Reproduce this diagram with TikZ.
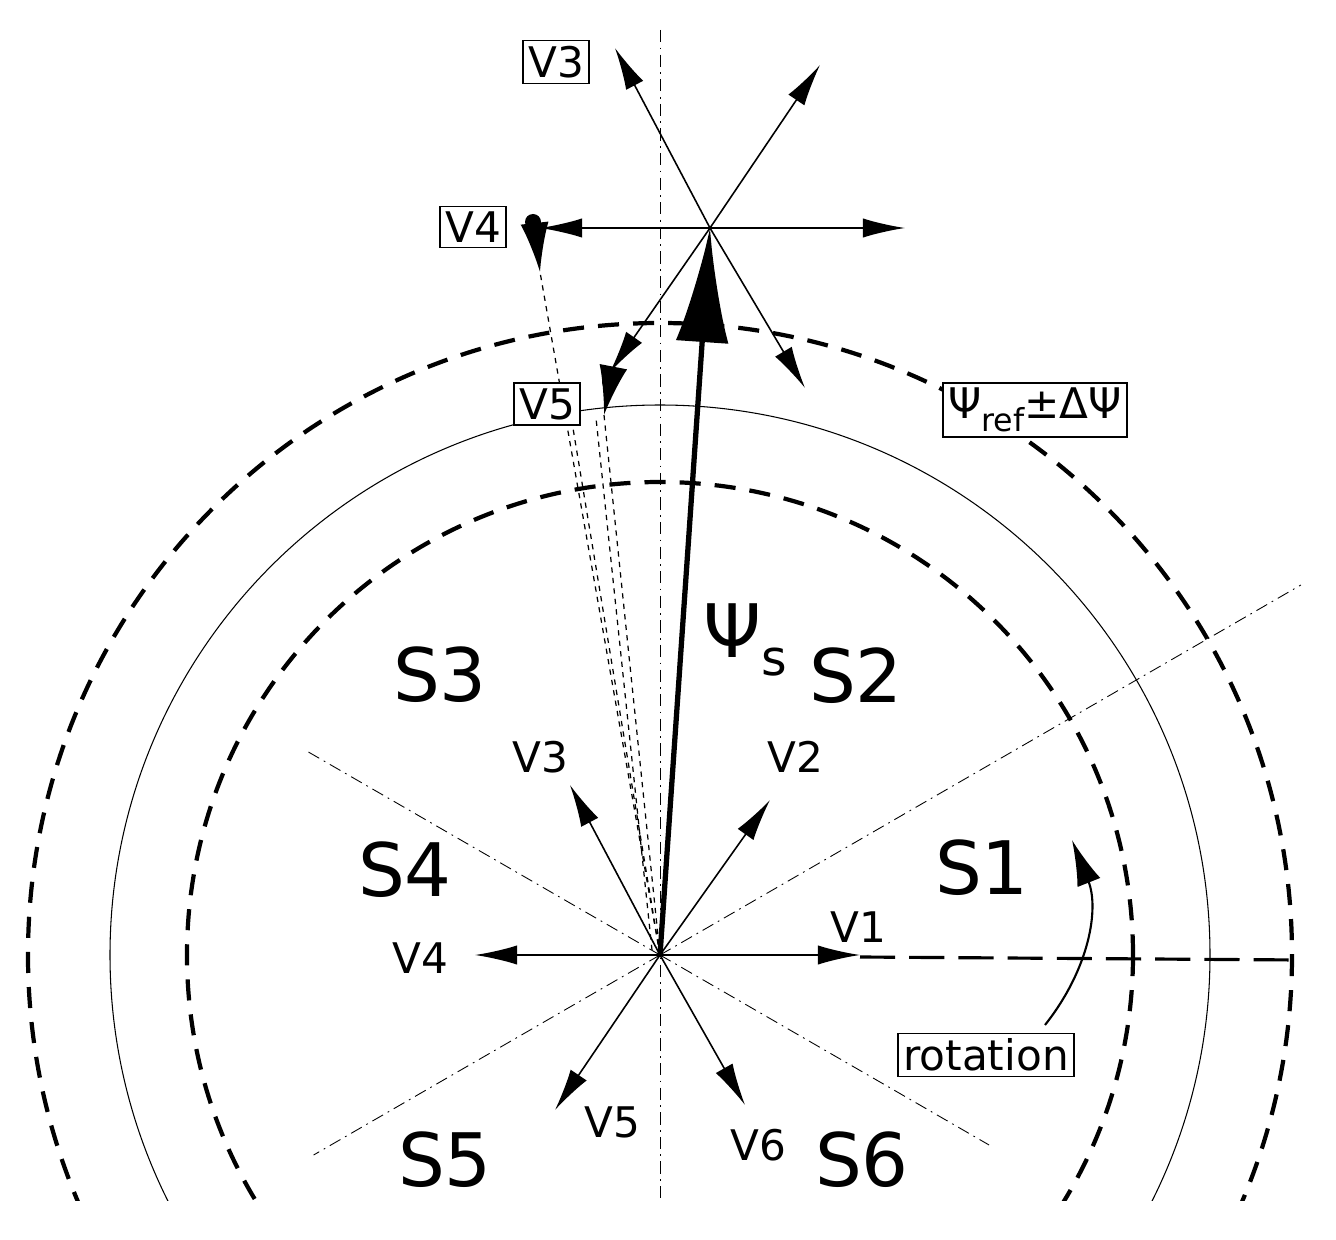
\documentclass[tikz,border=0pt]{standalone}
\usepackage{fontspec}
\setmainfont{DejaVu Sans}
\usetikzlibrary{arrows.meta}
\begin{document}
\begin{tikzpicture}[x=0.02cm,y=-0.02cm,
  vec/.style={-{Latex[length=24pt,width=11pt,inset=7pt]},line width=0.9pt},
  big/.style={font=\fontsize{42}{42}\selectfont},
  small/.style={font=\fontsize{24}{24}\selectfont},
  boxl/.style={draw,line width=0.8pt,inner sep=3pt,fill=white,font=\fontsize{24}{24}\selectfont},
  dd/.style={dash pattern=on 12pt off 8pt,line width=2.4pt},
  dashdot/.style={dash pattern=on 7pt off 3pt on 1pt off 3pt,line width=0.5pt}]
\useasboundingbox (0,0) rectangle (1336,1240);
\coordinate (O) at (660,955);
\coordinate (P) at (710,228);
\begin{scope}
\clip (0,0) rectangle (1336,1200);
\draw[line width=0.6pt] (O) circle (550);
\draw[dd] (O) circle (473);
\draw[dd] (O) circle (632);
\draw[dashdot] (660,30) -- (660,1200);
\draw[dashdot] (O) -- ++(-30:740);
\draw[dashdot] (O) -- ++(210:410);
\draw[dashdot] (O) -- ++(150:400);
\draw[dashdot] (O) -- ++(30:380);
\end{scope}
\draw[dash pattern=on 20pt off 8pt,line width=1.8pt] (860,957) -- (1300,960);
% dashed guide lines
\coordinate (a4) at (540,272);
\coordinate (a5) at (604,415);
\draw[dashed,line width=0.7pt] (O) -- (a4);
\draw[dashed,line width=0.7pt] (O) -- (570,410);
\draw[dashed,line width=0.7pt] (O) -- (a5);
\draw[dashed,line width=0.7pt] (652,950) -- (596,418);
\draw[-{Latex[length=28pt,width=16pt,inset=8pt]},line width=1.2pt] (536,236) -- (a4);
\draw[-{Latex[length=28pt,width=16pt,inset=8pt]},line width=1.2pt] (610,384) -- (a5);
\fill (533,222) circle (8);
\fill (610,382) circle (8);
% star at P
\draw[vec] (P) -- (615,48);
\draw[vec] (P) -- (820,65);
\draw[vec] (P) -- (905,228);
\draw[vec] (P) -- (540,228);
\draw[vec] (P) -- (610,372);
\draw[vec] (P) -- (805,388);
% Psi_s
\draw[-{Latex[length=65pt,width=30pt,inset=16pt]},line width=3pt] (O) -- (P);
% small vectors
\draw[vec] (O) -- (860,955);
\draw[vec] (O) -- (770,800);
\draw[vec] (O) -- (570,785);
\draw[vec] (O) -- (475,955);
\draw[vec] (O) -- (555,1110);
\draw[vec] (O) -- (745,1105);
% rotation
\draw[-{Latex[length=26pt,width=14pt,inset=7pt]},line width=1.2pt] (1045,1025) to[bend right=30] (1072,840);
% labels
\node[big] (s1) at (982,868) {S1};
\node[big] (s2) at (856,676) {S2};
\node[big] (s3) at (440,675) {S3};
\node[big] (s4) at (405,870) {S4};
\node[big] (s5) at (445,1160) {S5};
\node[big] (s6) at (862,1160) {S6};
\node[big] (psi) at (745,640) {Ψ\raisebox{-0.25em}{\fontsize{28}{28}\selectfont s}};
\node[small] (l1) at (858,927) {V1};
\node[small] (l2) at (795,757) {V2};
\node[small] (l3) at (540,757) {V3};
\node[small] (l4) at (420,958) {V4};
\node[small] (l5) at (612,1122) {V5};
\node[small] (l6) at (758,1145) {V6};
\node[boxl] (b3) at (556,62) {V3};
\node[boxl] (b4) at (473,227) {V4};
\node[boxl] (b5) at (547,404) {V5};
\node[boxl] (bref) at (1035,410) {Ψ\raisebox{-0.3em}{\fontsize{18}{18}\selectfont ref}±ΔΨ};
\node[boxl] (brot) at (986,1055) {rotation};
\end{tikzpicture}
\end{document}
